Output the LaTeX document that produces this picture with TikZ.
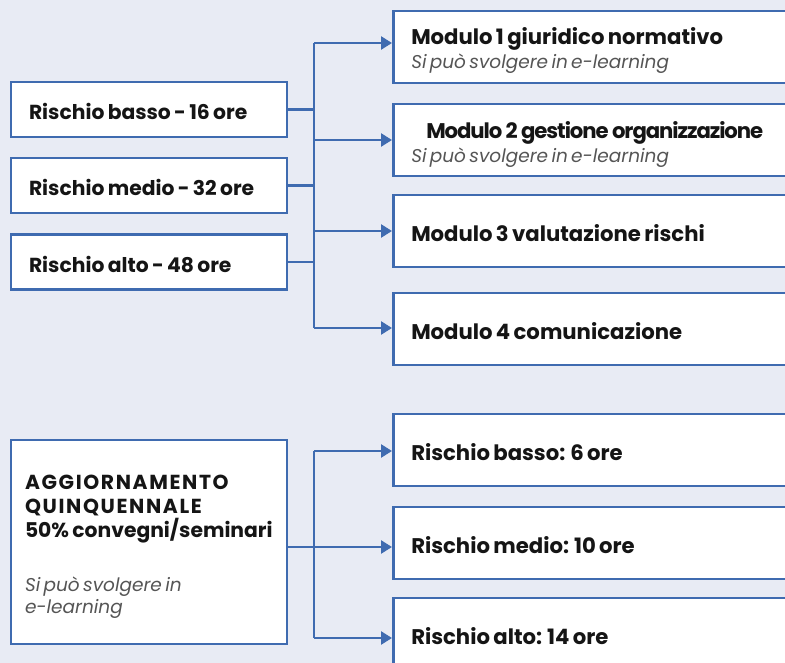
\documentclass[tikz,border=0pt]{standalone}
\usepackage{fontspec}
\setmainfont{Poppins}
\usetikzlibrary{arrows.meta}
\definecolor{bg}{HTML}{E8EBF4}
\definecolor{bl}{HTML}{3F6BB0}
\definecolor{tx}{HTML}{151515}
\definecolor{gr}{HTML}{555555}
\tikzset{
  box/.style={draw=bl, line width=2.5pt, fill=white, rectangle, inner sep=0pt, text=tx, align=left},
  lbox/.style={box, minimum width=276pt, minimum height=55pt, text width=240pt, text height=21pt, text depth=0pt},
  mbox/.style={box, minimum width=410pt, minimum height=72pt, text width=374pt, anchor=west},
  onebox/.style={mbox, text height=21.6pt, text depth=0pt},
  ln/.style={draw=bl, line width=2.5pt},
  arr/.style={ln, -{Triangle[length=11pt,width=13pt]}},
}
\newcommand{\lt}[1]{{\fontsize{20.3}{24}\selectfont\bfseries #1\par}}
\newcommand{\mt}[1]{{\fontsize{21.2}{24}\selectfont\bfseries #1\par}}
\newcommand{\st}[1]{{\fontsize{18.5}{22}\selectfont\itshape\color{gr}#1\par}}
\newcommand{\dn}[1]{\par\vspace*{-#1}}
\begin{document}
\begin{tikzpicture}[x=1pt,y=-1pt]
\fill[bg] (0,0) rectangle (785,663);
\useasboundingbox (0,0) rectangle (785,663);
\clip (0,0) rectangle (785,663);
% left boxes
\node[lbox] (l1) at (149,109.5) {\lt{Rischio basso - 16 ore}};
\node[lbox] (l2) at (149,185.5) {\lt{Rischio medio - 32 ore}};
\node[lbox] (l3) at (149,262) {\lt{Rischio alto - 48 ore}};
% module boxes
\node[mbox] (m1) at (392,47) {\mt{Modulo 1 giuridico normativo}\vspace{2pt}\st{Si può svolgere in e-learning}\dn{8pt}};
\node[mbox] (m2) at (392,140) {{\fontsize{21.2}{24}\selectfont\bfseries\addfontfeatures{LetterSpace=-5}\hspace*{15pt}Modulo 2 gestione organizzazione\par}\vspace{2pt}\st{Si può svolgere in e-learning}\dn{9pt}};
\node[onebox] (m3) at (392,231) {\mt{Modulo 3 valutazione rischi}};
\node[onebox] (m4) at (392,329) {\mt{Modulo 4 comunicazione}};
% bus
\coordinate (t1) at (314,43);
\coordinate (t2) at (314,140);
\coordinate (t3) at (314,231);
\coordinate (t4) at (314,328);
\draw[ln] (t1) -- (t4);
\draw[ln] (l1.east) -- (l1.east -| t1);
\draw[ln] (l2.east) -- (l2.east -| t1);
\draw[ln] (l3.east) -- (l3.east -| t1);
\draw[arr] (t1) -- (m1.west |- t1);
\draw[arr] (t2) -- (m2.west |- t2);
\draw[arr] (t3) -- (m3.west |- t3);
\draw[arr] (t4) -- (m4.west |- t4);
% bottom
\node[box, minimum width=276pt, minimum height=204pt, text width=248pt] (ag) at (149,542)
 {{\fontsize{20.3}{24}\selectfont\bfseries{\addfontfeatures{LetterSpace=8}AGGIORNAMENTO\\QUINQUENNALE}\\50\% convegni/seminari\par}
  \vspace{32pt}
  {\fontsize{18.5}{22}\selectfont\itshape\color{gr}Si può svolgere in\\e-learning\par}\dn{10pt}};
\node[onebox] (r1) at (392,450) {\mt{Rischio basso: 6 ore}};
\node[onebox] (r2) at (392,543) {\mt{Rischio medio: 10 ore}};
\node[onebox] (r3) at (392,634) {\mt{Rischio alto: 14 ore}};
\coordinate (u1) at (314,451);
\coordinate (u2) at (314,547);
\coordinate (u3) at (314,638);
\draw[ln] (u1) -- (u3);
\draw[ln] (ag.east |- u2) -- (u2);
\draw[arr] (u1) -- (r1.west |- u1);
\draw[arr] (u2) -- (r2.west |- u2);
\draw[arr] (u3) -- (r3.west |- u3);
\end{tikzpicture}
\end{document}
